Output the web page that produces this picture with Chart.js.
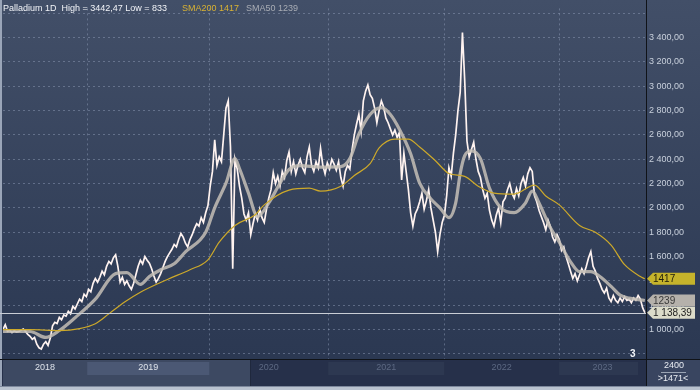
<!DOCTYPE html>
<html>
<head>
<meta charset="utf-8">
<script src="https://cdn.jsdelivr.net/npm/chart.js@4.4.0/dist/chart.umd.min.js"></script>
<style>
  html, body { margin: 0; padding: 0; background: #2b3852; overflow: hidden; }
  #wrap { width: 700px; height: 390px; }
</style>
</head>
<body>
<div id="wrap"><canvas id="chart"></canvas></div>
<script>
// -----------------------------------------------------------------------------
// Palladium 1D — price with SMA50 / SMA200
// -----------------------------------------------------------------------------

// weekly closes, week 0 = mid-April 2018
const priceWeekly = [
  1000, 1040, 985, 995, 975, 990, 980, 985, 995, 1005,
  985, 960, 945, 920, 935, 880, 850, 840, 880, 900,
  870, 930, 1030, 1060, 1050, 1100, 1080, 1120, 1110, 1150,
  1130, 1190, 1170, 1210, 1250, 1230, 1290, 1270, 1330, 1310,
  1380, 1420, 1390, 1430, 1480, 1450, 1520, 1560, 1540, 1590,
  1615, 1520, 1390, 1430, 1370, 1400, 1360, 1330, 1380, 1450,
  1520, 1570, 1540, 1600, 1570, 1545, 1500, 1440, 1390, 1420,
  1460, 1510, 1560, 1600, 1630, 1660, 1700, 1680, 1740, 1790,
  1760, 1710, 1680, 1740, 1780, 1830, 1870, 1850, 1920, 1880,
  1960, 2020, 2180, 2300, 2560, 2350, 2420, 2380, 2600, 2820,
  2880, 2500, 1500, 2400, 2320, 2180, 2080, 1950, 1900, 1960,
  1780, 1870, 1950, 1900, 1990, 1920, 1880, 1990, 2080, 2150,
  2290, 2200, 2260, 2180, 2300, 2250, 2390, 2460, 2300, 2380,
  2280, 2350, 2400, 2330, 2290, 2420, 2500, 2350, 2300, 2380,
  2330, 2490, 2350, 2280, 2370, 2320, 2400, 2360, 2310, 2380,
  2250, 2180, 2300, 2350, 2320, 2480, 2600, 2690, 2770, 2630,
  2880, 2960, 3010, 2930, 2900, 2820, 2700, 2800, 2880, 2830,
  2740, 2700, 2650, 2600, 2640, 2580, 2620, 2230, 2450, 2300,
  2150, 1960, 1850, 1950, 1990, 2050, 2120, 1990, 2060, 2150,
  2000, 1900, 1800, 1640, 1780, 1880, 1940, 2100, 2330, 2260,
  2450, 2600, 2800, 2950, 3442.47, 3050, 2550, 2420, 2480, 2540,
  2400, 2300, 2250, 2150, 2080, 2120, 1980, 1900, 1850, 1940,
  2000, 1880, 2050, 2080, 2150, 2200, 2120, 2080, 2160, 2100,
  2200, 2250, 2180, 2280, 2330, 2300, 2100, 2050, 1980, 1930,
  1880, 1820, 1900, 1850, 1760, 1720, 1780, 1740, 1650, 1680,
  1600, 1540, 1480, 1420, 1460, 1400, 1450, 1500, 1460, 1520,
  1590, 1640, 1520, 1480, 1420, 1380, 1330, 1300, 1340, 1260,
  1230, 1280, 1240, 1220, 1260, 1230, 1270, 1240, 1250, 1220,
  1260, 1240, 1280, 1250, 1180, 1138.39
];

const sma50Week = [0, 12, 19, 25, 32, 41, 50, 55, 61, 65, 70, 76, 81, 90, 94, 99, 103, 105, 109, 113, 118, 123, 127, 132, 141, 150, 154, 158, 163, 168, 172, 176, 181, 185, 190, 194, 198, 201, 203, 205, 208, 212, 216, 221, 227, 232, 235, 238, 243, 247, 252, 256, 261, 265, 270, 274, 278, 285];
const sma50Val  = [984, 984, 935, 992, 1097, 1250, 1460, 1468, 1371, 1436, 1492, 1541, 1638, 1799, 2001, 2203, 2405, 2324, 2122, 1928, 2041, 2203, 2316, 2348, 2336, 2340, 2405, 2606, 2768, 2824, 2768, 2647, 2445, 2203, 2074, 2001, 1920, 2041, 2283, 2429, 2469, 2405, 2162, 2001, 1961, 2041, 2138, 2041, 1839, 1718, 1557, 1476, 1476, 1436, 1355, 1283, 1258, 1239];

const sma200Week = [0, 12, 25, 34, 41, 47, 54, 61, 73, 83, 91, 96, 103, 112, 116, 127, 136, 141, 150, 156, 163, 167, 174, 180, 185, 192, 198, 205, 211, 218, 227, 236, 241, 247, 256, 263, 270, 276, 283, 285];
const sma200Val  = [1000, 1000, 992, 1008, 1048, 1129, 1226, 1307, 1412, 1492, 1573, 1718, 1856, 1944, 2025, 2146, 2162, 2138, 2178, 2267, 2364, 2493, 2566, 2566, 2501, 2388, 2283, 2259, 2178, 2122, 2114, 2187, 2098, 2025, 1856, 1799, 1694, 1533, 1436, 1417];

const yearStarts = [37.4, 91.6, 144.4, 195.9, 246.9]; // week index of 1 Jan
const yearLabels = ["2018", "2019", "2020", "2021", "2022", "2023"];
const yGrid = [800, 1000, 1200, 1400, 1600, 1800, 2000, 2200, 2400, 2600, 2800, 3000, 3200, 3400, 3600];
const yLabelMin = 1000, yLabelMax = 3400;

const HIGH = 3442.47, LOW = 833;
const LAST = 1138.39, SMA200_LAST = 1417, SMA50_LAST = 1239;

const FONT = "'Liberation Sans', Arial, sans-serif";

function fmtNum(v, d) {
  const s = v.toFixed(d).split(".");
  const intPart = s[0].replace(/\B(?=(\d{3})+(?!\d))/g, " ");
  return d ? intPart + "," + s[1] : intPart;
}

// ---------------------------------------------------------------------------
// decorations: background, bottom year band, tags, header
// ---------------------------------------------------------------------------
function drawTag(ctx, x, y, text, fill, color) {
  const h = 12;
  ctx.beginPath();
  ctx.moveTo(x, y);
  ctx.lineTo(x + 6, y - h / 2);
  ctx.lineTo(x + 48, y - h / 2);
  ctx.lineTo(x + 48, y + h / 2);
  ctx.lineTo(x + 6, y + h / 2);
  ctx.closePath();
  ctx.fillStyle = fill;
  ctx.fill();
  ctx.fillStyle = color;
  ctx.textAlign = "left";
  ctx.textBaseline = "middle";
  ctx.font = "10px " + FONT;
  ctx.fillText(text, x + 6, y + 0.5);
}

const frame = {
  id: "frame",
  beforeDraw(chart) {
    const { ctx, width, height, chartArea: a, scales } = chart;
    const xs = scales.x;
    ctx.save();
    const g = ctx.createLinearGradient(0, 0, 0, a.bottom);
    g.addColorStop(0, "#424f68");
    g.addColorStop(1, "#2b3852");
    ctx.fillStyle = g;
    ctx.fillRect(0, 0, width, a.bottom);

    // bottom band
    const yb = a.bottom + 1;
    const thumbEnd = 250;
    ctx.fillStyle = "#26304a";
    ctx.fillRect(0, yb, a.right, 26);
    ctx.fillStyle = "#3d4962";
    ctx.fillRect(a.left, yb, thumbEnd - a.left, 26);
    ctx.fillStyle = "#1f283d";
    ctx.fillRect(thumbEnd, yb, 1, 26);

    ctx.font = "9px " + FONT;
    ctx.textAlign = "center";
    ctx.textBaseline = "middle";
    yearLabels.forEach((lab, k) => {
      const x0 = k === 0 ? a.left : xs.getPixelForValue(yearStarts[k - 1]);
      const x1 = k === yearLabels.length - 1 ? a.right - 8 : xs.getPixelForValue(yearStarts[k]);
      const inThumb = (x0 + x1) / 2 < thumbEnd;
      if (k % 2 === 1) {
        ctx.fillStyle = inThumb ? "#4b5874" : "#2d3851";
        ctx.fillRect(x0, yb + 2, x1 - x0, 13);
      }
      ctx.fillStyle = inThumb ? "#dde2ea" : "#5d6983";
      ctx.fillText(lab, (x0 + (k === yearLabels.length - 1 ? a.right : x1)) / 2, yb + 8);
    });

    // right-bottom box
    ctx.fillStyle = "#394560";
    ctx.fillRect(a.right, yb, width - a.right, 26);

    // outer strips
    ctx.fillStyle = "#b9c2cf";
    ctx.fillRect(0, yb + 26, width, height - yb - 26);
    ctx.fillStyle = "#7d889c";
    ctx.fillRect(0, yb + 26, width, 1);
    ctx.fillStyle = "#9aa5b8";
    ctx.fillRect(0, 0, 2, yb + 26);
    ctx.restore();
  },
  afterDatasetsDraw(chart) {
    const { ctx, chartArea: a, scales } = chart;
    const y = Math.round(scales.y.getPixelForValue(LAST)) + 0.5;
    ctx.save();
    ctx.strokeStyle = "#c9ced6";
    ctx.lineWidth = 1;
    ctx.beginPath();
    ctx.moveTo(0, y);
    ctx.lineTo(a.right, y);
    ctx.stroke();
    ctx.restore();
  },
  afterDraw(chart) {
    const { ctx, width, chartArea: a, scales } = chart;
    const ys = scales.y;
    ctx.save();
    // separators
    ctx.fillStyle = "#101318";
    ctx.fillRect(Math.round(a.right), 0, 1, a.bottom + 27);
    ctx.fillRect(0, Math.round(a.bottom), width, 1);

    // header
    ctx.font = "9px " + FONT;
    ctx.textAlign = "left";
    ctx.textBaseline = "middle";
    ctx.fillStyle = "#f2f4f8";
    ctx.fillText("Palladium 1D  High = " + HIGH.toFixed(2).replace(".", ",") + " Low = " + LOW, 3, 9);
    ctx.fillStyle = "#d9b233";
    ctx.fillText("SMA200 " + SMA200_LAST, 182, 9);
    ctx.fillStyle = "#a9adb5";
    ctx.fillText("SMA50 " + SMA50_LAST, 246, 9);

    // small counter
    ctx.fillStyle = "#f2f4f8";
    ctx.font = "bold 10px " + FONT;
    ctx.fillText("3", 630, a.bottom - 5);

    // price tags
    const tx = a.right + 1;
    drawTag(ctx, tx, ys.getPixelForValue(SMA200_LAST), String(SMA200_LAST), "#c5b32b", "#22200c");
    drawTag(ctx, tx, ys.getPixelForValue(SMA50_LAST), String(SMA50_LAST), "#b5b1ab", "#3a3a3a");
    drawTag(ctx, tx, ys.getPixelForValue(LAST), fmtNum(LAST, 2), "#dcdcca", "#222222");

    // bottom-right box
    ctx.font = "9px " + FONT;
    ctx.textAlign = "center";
    ctx.fillStyle = "#e8ecf2";
    ctx.fillText("2400", 674, a.bottom + 7);
    ctx.fillStyle = "#9aa4b4";
    ctx.fillRect(661, a.bottom + 13, 25, 1);
    ctx.fillStyle = "#e8ecf2";
    ctx.fillText(">1471<", 673, a.bottom + 20);
    ctx.restore();
  }
};

// ---------------------------------------------------------------------------
// Chart
// ---------------------------------------------------------------------------
const gridColor = "rgba(150,164,190,0.45)";

new Chart(document.getElementById("chart"), {
  type: "line",
  data: {
    datasets: [
      {
        label: "SMA200",
        data: sma200Week.map((w, i) => ({ x: w, y: sma200Val[i] })),
        borderColor: "#cda92a",
        borderWidth: 1.2,
        cubicInterpolationMode: "monotone",
        order: 0,
      },
      {
        label: "SMA50",
        data: sma50Week.map((w, i) => ({ x: w, y: sma50Val[i] })),
        borderColor: "rgba(196,190,182,0.85)",
        borderWidth: 3.2,
        cubicInterpolationMode: "monotone",
        order: 1,
      },
      {
        label: "Palladium",
        data: priceWeekly.map((v, i) => ({ x: i, y: v })),
        borderColor: "#fff3f0",
        borderWidth: 1.7,
        tension: 0,
        order: 2,
      }
    ]
  },
  options: {
    responsive: true,
    maintainAspectRatio: false,
    animation: false,
    layout: { padding: { left: 3, top: 2, right: 0, bottom: 0 } },
    elements: { point: { radius: 0 } },
    plugins: { legend: { display: false }, tooltip: { enabled: false } },
    scales: {
      x: {
        type: "linear",
        min: 0,
        max: 285.5,
        afterFit(s) { s.height = 31; },
        afterBuildTicks(s) { s.ticks = yearStarts.map(v => ({ value: v })); },
        ticks: { display: false },
        grid: { color: gridColor, lineWidth: 1, drawTicks: false },
        border: { display: false, dash: [2, 3] },
      },
      y: {
        type: "linear",
        position: "right",
        min: 758,
        max: 3640,
        afterFit(s) { s.width = 54; },
        afterBuildTicks(s) { s.ticks = yGrid.map(v => ({ value: v })); },
        ticks: {
          padding: 3,
          color: "#c8d0dc",
          font: { family: FONT, size: 9 },
          callback: v => (v >= yLabelMin && v <= yLabelMax ? fmtNum(v, 2) : ""),
        },
        grid: { color: gridColor, lineWidth: 1, drawTicks: false },
        border: { display: false, dash: [2, 3] },
      }
    }
  },
  plugins: [frame]
});
</script>
</body>
</html>
